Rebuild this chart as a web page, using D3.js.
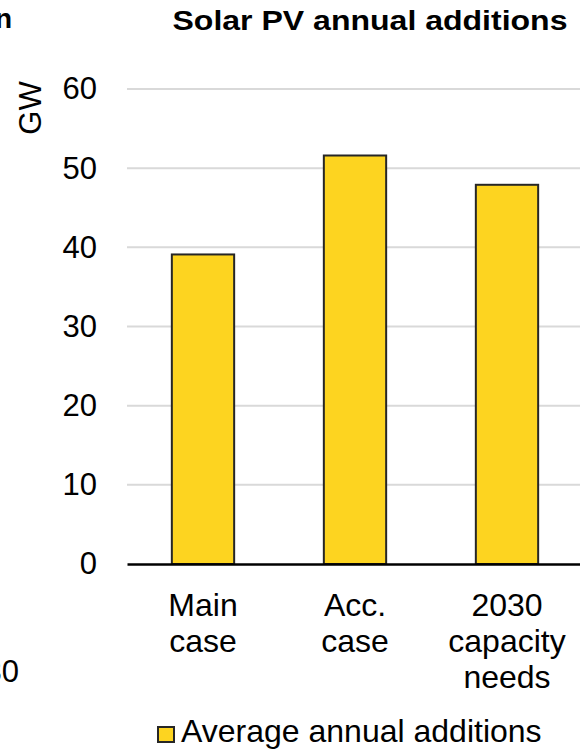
<!DOCTYPE html>
<html>
<head>
<meta charset="utf-8">
<script src="https://cdn.jsdelivr.net/npm/d3@7"></script>
<style>
  html, body { margin: 0; padding: 0; background: #fff; }
  svg { display: block; font-family: "Liberation Sans", Arial, sans-serif; }
</style>
</head>
<body>
<svg id="chart" width="580" height="751"></svg>
<script>
// Solar PV annual additions (GW)
const categories = [["Main", "case"], ["Acc.", "case"], ["2030", "capacity", "needs"]];
const values = [39.1, 51.6, 47.9];
const yTicks = [0, 10, 20, 30, 40, 50, 60];
const seriesName = "Average annual additions";
const chartTitle = "Solar PV annual additions";

const svg = d3.select("#chart");
const barFill = "#fdd420";
const barStroke = "#262626";

const x = d3.scaleBand()
  .domain(categories.map((c, i) => i))
  .range([127, 583])
  .paddingInner(0.59)
  .paddingOuter(0.295);

const y = d3.scaleLinear().domain([0, 60]).range([564, 89]);

// neighbouring panel fragments at the left edge
svg.append("text").attr("x", 12).attr("y", 28).attr("text-anchor", "end")
  .attr("font-size", 28).attr("font-weight", "bold").attr("fill", "#000").text("generation");
svg.append("text").attr("x", 19).attr("y", 682).attr("text-anchor", "end")
  .attr("font-size", 31).attr("fill", "#000").text("2030");

// title
svg.append("text").attr("x", 370).attr("y", 30).attr("text-anchor", "middle")
  .attr("font-size", 28).attr("font-weight", "bold").attr("fill", "#000")
  .attr("textLength", 395).attr("lengthAdjust", "spacingAndGlyphs")
  .text(chartTitle);

// gridlines
svg.append("g").selectAll("line").data(yTicks.filter(t => t > 0)).join("line")
  .attr("x1", 127).attr("x2", 580)
  .attr("y1", d => y(d)).attr("y2", d => y(d))
  .attr("stroke", "#d9d9d9").attr("stroke-width", 2);

// y axis labels
const yAxis = d3.axisLeft(y).tickValues(yTicks).tickSize(0).tickPadding(0);
const gy = svg.append("g").attr("transform", "translate(97,0)").call(yAxis);
gy.select(".domain").remove();
gy.selectAll("text").attr("font-size", 31).attr("fill", "#000")
  .attr("font-family", "Liberation Sans, Arial, sans-serif");

// y axis title
svg.append("text").attr("transform", "translate(41,108) rotate(-90)")
  .attr("text-anchor", "middle").attr("font-size", 31).attr("fill", "#000").text("GW");

// bars
svg.append("g").selectAll("rect").data(values).join("rect")
  .attr("x", (d, i) => x(i))
  .attr("y", d => y(d))
  .attr("width", x.bandwidth())
  .attr("height", d => y(0) - y(d))
  .attr("fill", barFill).attr("stroke", barStroke).attr("stroke-width", 2);

// x axis baseline
const xAxis = d3.axisBottom(x).tickSize(0).tickFormat("");
const gx = svg.append("g").attr("transform", "translate(0,564)").call(xAxis);
gx.select(".domain").attr("stroke", "#000").attr("stroke-width", 2.5);

// category labels
const catG = svg.append("g");
categories.forEach((lines, i) => {
  const t = catG.append("text").attr("text-anchor", "middle")
    .attr("font-size", 32).attr("fill", "#000");
  lines.forEach((ln, j) => {
    t.append("tspan").attr("x", x(i) + x.bandwidth() / 2).attr("y", 616 + j * 36).text(ln);
  });
});

// legend
svg.append("rect").attr("x", 158).attr("y", 727).attr("width", 16).attr("height", 15)
  .attr("fill", barFill).attr("stroke", barStroke).attr("stroke-width", 2);
svg.append("text").attr("x", 181).attr("y", 742).attr("font-size", 32).attr("fill", "#000").text(seriesName);
</script>
</body>
</html>
